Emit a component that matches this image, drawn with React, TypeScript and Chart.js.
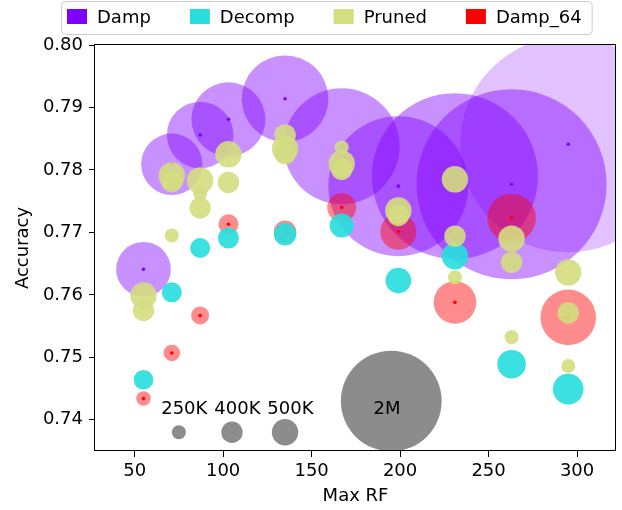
import { useEffect, useRef } from "react";
import { Chart, registerables } from "chart.js";

Chart.register(...registerables);

const FONT = '"DejaVu Sans", sans-serif';

// ---- data ----
const maxRF = [55, 71, 87, 103, 135, 167, 199, 231, 263, 295];

const dampAcc = [0.7641, 0.7809, 0.7856, 0.7881, 0.7914, 0.7838, 0.7774, 0.779, 0.7777, 0.7841];
const dampParamsK = [1070, 1205, 1310, 1460, 1715, 2305, 2790, 3315, 3800, 4325];

const damp64Acc = [0.7434, 0.7507, 0.7567, 0.7713, 0.7701, 0.774, 0.7701, 0.7588, 0.7723, 0.7564];
const damp64ParamsK = [262, 302, 331, 371, 423, 552, 694, 827, 948, 1089];

const decompAcc = [0.7464, 0.7604, 0.7675, 0.7691, 0.7697, 0.7711, 0.7623, 0.7662, 0.7489, 0.7449];
const decompParamsK = [363, 371, 371, 391, 419, 452, 484, 504, 544, 585];

const prunedRF = [55, 55, 71, 71, 71, 87, 87, 87, 103, 103, 135, 135, 135, 167, 167, 167, 199, 199, 231, 231, 231, 263, 263, 263, 295, 295, 295];
const prunedAcc = [0.7599, 0.7575, 0.7791, 0.7781, 0.7695, 0.7783, 0.7762, 0.7739, 0.7825, 0.778, 0.7856, 0.7834, 0.7826, 0.7836, 0.781, 0.7801, 0.7735, 0.7727, 0.7785, 0.7694, 0.7628, 0.769, 0.7652, 0.7532, 0.7636, 0.7571, 0.7486];
const prunedParamsK = [500, 400, 500, 400, 250, 500, 250, 400, 500, 400, 400, 500, 400, 250, 500, 400, 500, 400, 500, 400, 250, 500, 400, 250, 500, 400, 250];

const sizeLegendRF = [75, 105, 135, 195];
const sizeLegendAcc = [0.738, 0.738, 0.738, 0.743];
const sizeLegendParamsK = [250, 400, 500, 2000];
const sizeLegendLabels = ["250K", "400K", "500K", "2M"];
const sizeLabelAcc = 0.741;
const sizeLabelShift = 10;

const xTicks = [50, 100, 150, 200, 250, 300];
const yTicks = [0.74, 0.75, 0.76, 0.77, 0.78, 0.79, 0.8];
const xRange = [27.6, 322];
const yRange = [0.735, 0.8];

const legendNames = ["Damp", "Decomp", "Pruned", "Damp_64"];
const legendColors = ["#8000ff", "#2adddd", "#d4dd80", "#ff0000"];

// ---- styles ----
const DAMP_ALPHA = 0.43;
const DAMP_LAST_ALPHA = 0.24;
const DOT_R = 1.8;

const radiusOf = (k: number) => 0.8 + 0.0248 * k;

export default function App() {
  const ref = useRef<HTMLCanvasElement>(null);

  useEffect(() => {
    const canvas = ref.current!;
    const bubbles = (xs: number[], ys: number[], ks: number[]) =>
      xs.map((x, i) => ({ x, y: ys[i], r: radiusOf(ks[i]) }));
    const dots = (xs: number[], ys: number[]) => xs.map((x, i) => ({ x, y: ys[i], r: DOT_R }));

    const overlay = {
      id: "overlay",
      beforeDraw(chart: any) {
        const ctx = chart.ctx;
        ctx.save();
        ctx.fillStyle = "#fff";
        ctx.fillRect(0, 0, chart.width, chart.height);
        ctx.restore();
      },
      afterDatasetsDraw(chart: any) {
        const { ctx, chartArea: a, scales } = chart;
        const xs = scales.x, ys = scales.y;
        ctx.save();
        ctx.fillStyle = "#000";
        ctx.font = `18px ${FONT}`;
        ctx.textAlign = "left";
        ctx.textBaseline = "alphabetic";
        sizeLegendLabels.forEach((t, i) => {
          ctx.fillText(
            t,
            xs.getPixelForValue(sizeLegendRF[i] - sizeLabelShift),
            ys.getPixelForValue(sizeLabelAcc)
          );
        });
        ctx.strokeStyle = "#000";
        ctx.lineWidth = 1;
        ctx.strokeRect(a.left - 0.5, a.top - 0.5, a.right - a.left, a.bottom - a.top);
        ctx.restore();
      },
      afterDraw(chart: any) {
        const ctx = chart.ctx;
        ctx.save();
        ctx.font = `18px ${FONT}`;
        ctx.textBaseline = "alphabetic";
        ctx.textAlign = "left";
        let cx = 67;
        const pos: number[] = [];
        legendNames.forEach((n) => {
          pos.push(cx);
          cx += 30 + ctx.measureText(n).width + 39;
        });
        const right = cx - 39 + 10;
        ctx.beginPath();
        (ctx as any).roundRect(61.5, 1.5, right - 61, 33, 4);
        ctx.fillStyle = "rgba(255,255,255,0.8)";
        ctx.fill();
        ctx.strokeStyle = "#cccccc";
        ctx.lineWidth = 1;
        ctx.stroke();
        legendNames.forEach((n, i) => {
          ctx.fillStyle = legendColors[i];
          ctx.fillRect(pos[i], 9, 20, 15);
          ctx.fillStyle = "#000";
          ctx.fillText(n, pos[i] + 30, 23.3);
        });
        ctx.restore();
      },
    };

    const chart = new Chart(canvas, {
      type: "bubble",
      data: {
        datasets: [
          {
            label: "Damp",
            data: bubbles(maxRF, dampAcc, dampParamsK),
            backgroundColor: (c: any) =>
              `rgba(128,0,255,${c.dataIndex === maxRF.length - 1 ? DAMP_LAST_ALPHA : DAMP_ALPHA})`,
            borderWidth: 0,
            order: 10,
            clip: 0,
          },
          {
            label: "Damp dots",
            data: dots(maxRF, dampAcc),
            backgroundColor: "#8000ff",
            borderWidth: 0,
            order: 9,
            clip: 0,
          },
          {
            label: "Damp_64",
            data: bubbles(maxRF, damp64Acc, damp64ParamsK),
            backgroundColor: "rgba(255,0,0,0.45)",
            borderWidth: 0,
            order: 8,
            clip: 0,
          },
          {
            label: "Damp_64 dots",
            data: dots(maxRF, damp64Acc),
            backgroundColor: "#ff0000",
            borderWidth: 0,
            order: 7,
            clip: 0,
          },
          {
            label: "Decomp",
            data: bubbles(maxRF, decompAcc, decompParamsK),
            backgroundColor: "rgba(42,221,221,0.92)",
            borderWidth: 0,
            order: 6,
            clip: 0,
          },
          {
            label: "Pruned",
            data: bubbles(prunedRF, prunedAcc, prunedParamsK),
            backgroundColor: "rgba(212,221,128,0.9)",
            borderWidth: 0,
            order: 5,
            clip: 0,
          },
          {
            label: "Sizes",
            data: bubbles(sizeLegendRF, sizeLegendAcc, sizeLegendParamsK),
            backgroundColor: "rgba(128,128,128,0.9)",
            borderWidth: 0,
            order: 4,
            clip: 0,
          },
        ] as any,
      },
      options: {
        animation: false,
        responsive: false,
        devicePixelRatio: 1,
        events: [],
        layout: { autoPadding: false, padding: { left: 0, top: 45, right: 6, bottom: 0 } },
        plugins: { legend: { display: false }, tooltip: { enabled: false } },
        scales: {
          x: {
            type: "linear",
            min: xRange[0],
            max: xRange[1],
            afterBuildTicks: (s: any) => {
              s.ticks = xTicks.map((v) => ({ value: v }));
            },
            afterFit: (s: any) => {
              s.height = 59;
            },
            grid: { drawOnChartArea: false, drawTicks: true, tickLength: 6, color: "#000" },
            border: { display: false },
            ticks: {
              color: "#000",
              padding: 4,
              font: { family: FONT, size: 18 },
              callback: (v: any) => String(v),
            },
            title: {
              display: true,
              text: "Max RF",
              color: "#000",
              font: { family: FONT, size: 18 },
              padding: { top: 0, bottom: 3 },
            },
          },
          y: {
            type: "linear",
            min: yRange[0],
            max: yRange[1],
            afterBuildTicks: (s: any) => {
              s.ticks = yTicks.map((v) => ({ value: v }));
            },
            afterFit: (s: any) => {
              s.width = 95;
            },
            grid: { drawOnChartArea: false, drawTicks: true, tickLength: 6, color: "#000" },
            border: { display: false },
            ticks: {
              color: "#000",
              padding: 6,
              font: { family: FONT, size: 18 },
              callback: (v: any) => Number(v).toFixed(2),
            },
            title: {
              display: true,
              text: "Accuracy",
              color: "#000",
              font: { family: FONT, size: 18 },
              padding: { top: 13, bottom: 0 },
            },
          },
        },
      } as any,
      plugins: [overlay],
    });

    return () => chart.destroy();
  }, []);

  return (
    <div style={{ position: "absolute", left: 0, top: 0, width: 622, height: 510 }}>
      <canvas ref={ref} width={622} height={510} style={{ display: "block", width: 622, height: 510 }} />
    </div>
  );
}
